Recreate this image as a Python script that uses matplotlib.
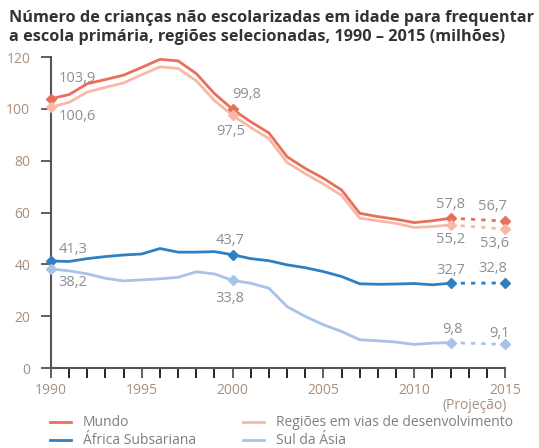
import matplotlib
matplotlib.use("Agg")
import matplotlib.pyplot as plt
from matplotlib.lines import Line2D

plt.rcParams['font.family'] = ['Open Sans', 'DejaVu Sans']

years = list(range(1990, 2013))
proj_years = [2012, 2015]

mundo = [103.9, 105.5, 109.7, 111.3, 113.0, 116.0, 119.1, 118.5, 113.6, 105.9, 99.8,
         95.0, 90.7, 81.5, 77.0, 73.2, 68.7, 59.7, 58.4, 57.4, 56.1, 56.8, 57.8]
regioes = [100.6, 102.5, 106.5, 108.3, 110.0, 113.2, 116.2, 115.6, 110.8, 103.2, 97.5,
           92.8, 88.5, 79.3, 75.0, 71.0, 66.6, 57.8, 56.8, 55.8, 54.2, 54.6, 55.2]
africa = [41.3, 41.1, 42.2, 43.0, 43.6, 44.0, 46.1, 44.7, 44.7, 44.9, 43.7,
          42.2, 41.4, 39.8, 38.7, 37.2, 35.3, 32.5, 32.3, 32.4, 32.6, 32.1, 32.7]
asia = [38.2, 37.5, 36.3, 34.6, 33.6, 34.0, 34.4, 35.0, 37.1, 36.3, 33.8,
        32.7, 30.8, 23.7, 19.9, 16.7, 14.1, 10.9, 10.5, 10.0, 9.1, 9.6, 9.8]
proj_mundo = [57.8, 56.7]
proj_regioes = [55.2, 53.6]
proj_africa = [32.7, 32.8]
proj_asia = [9.8, 9.1]

labels = ["Mundo", "Regiões em vias de desenvolvimento", "África Subsariana", "Sul da Ásia"]
colors = ["#e8705a", "#f6b9a6", "#2f7fc1", "#a9c3e6"]
xtick_labels = ["1990", "1995", "2000", "2005", "2010", "2015"]

marker_years = [1990, 2000, 2012]

fig = plt.figure(figsize=(5.39, 4.48), dpi=100)
ax = fig.add_axes([51/539, 1 - 368/448, (505-51)/539, (368-57)/448])

series = [mundo, regioes, africa, asia]
projs = [proj_mundo, proj_regioes, proj_africa, proj_asia]
for s, p, c, lab in zip(series, projs, colors, labels):
    ax.plot(years, s, color=c, lw=2, solid_capstyle='round', clip_on=False)
    ax.plot(proj_years, p, color=c, lw=2, ls=(0, (1.5, 2.2)), clip_on=False)
    mv = [s[years.index(y)] for y in marker_years] + [p[-1]]
    ax.plot(marker_years + [2015], mv, ls='none', marker='D', ms=5, color=c,
            clip_on=False, zorder=5)

ax.set_xlim(1990, 2015)
ax.set_ylim(0, 120)

tick_col = "#a8907f"
ax.set_yticks([0, 20, 40, 60, 80, 100, 120])
ax.set_xticks([1990, 1995, 2000, 2005, 2010, 2015])
ax.set_xticks(range(1990, 2016), minor=True)
ax.set_xticklabels(xtick_labels)
ax.tick_params(axis='both', colors="#444444", labelcolor=tick_col, labelsize=10)
ax.tick_params(axis='x', which='both', direction='out', length=7, width=1.2, pad=4)
ax.tick_params(axis='y', direction='out', length=7, width=1.2, pad=8)
ax.text(2015.1, -11.5, "(Projeção)", color=tick_col, fontsize=10, ha='right', va='top')

for sp in ['top', 'right']:
    ax.spines[sp].set_visible(False)
for sp in ['left', 'bottom']:
    ax.spines[sp].set_color("#555555")
    ax.spines[sp].set_linewidth(1.5)

num_col = "#8d8e96"
fs = 10.5
def lab(x, y, t, ha='center'):
    ax.text(x, y, t, color=num_col, fontsize=fs, ha=ha, va='center')

lab(1990.4, 111.7, "103,9", ha='left')
lab(1990.4, 96.9, "100,6", ha='left')
lab(2000.0, 105.6, "99,8", ha='left')
lab(1999.9, 91.3, "97,5")
lab(2012.0, 63.1, "57,8")
lab(2014.3, 62.5, "56,7")
lab(2012.0, 49.7, "55,2")
lab(2014.4, 48.1, "53,6")
lab(1990.4, 45.8, "41,3", ha='left')
lab(1990.4, 33.0, "38,2", ha='left')
lab(1999.85, 49.1, "43,7")
lab(1999.85, 26.8, "33,8")
lab(2012.0, 37.5, "32,7")
lab(2014.3, 38.5, "32,8")
lab(2012.1, 15.0, "9,8")
lab(2014.7, 13.5, "9,1")

fig.text(9/539, 1 - 18/448, "Número de crianças não escolarizadas em idade para frequentar",
         fontsize=11.7, fontweight='bold', color="#333333", va='center', ha='left')
fig.text(9/539, 1 - 37/448, "a escola primária, regiões selecionadas, 1990 – 2015 (milhões)",
         fontsize=11.7, fontweight='bold', color="#333333", va='center', ha='left')

# legend, drawn row-wise
leg_pos = [(50, 422), (243, 422), (50, 440), (243, 440)]
for (x0, y0), c, t in zip(leg_pos, colors, labels):
    fig.add_artist(Line2D([x0/539, (x0+21)/539], [1 - y0/448, 1 - y0/448], color=c, lw=2))
    fig.text((x0+33)/539, 1 - y0/448, t, color="#7d7e86", fontsize=10, va='center', ha='left')

fig.savefig("out.png", dpi=100)
